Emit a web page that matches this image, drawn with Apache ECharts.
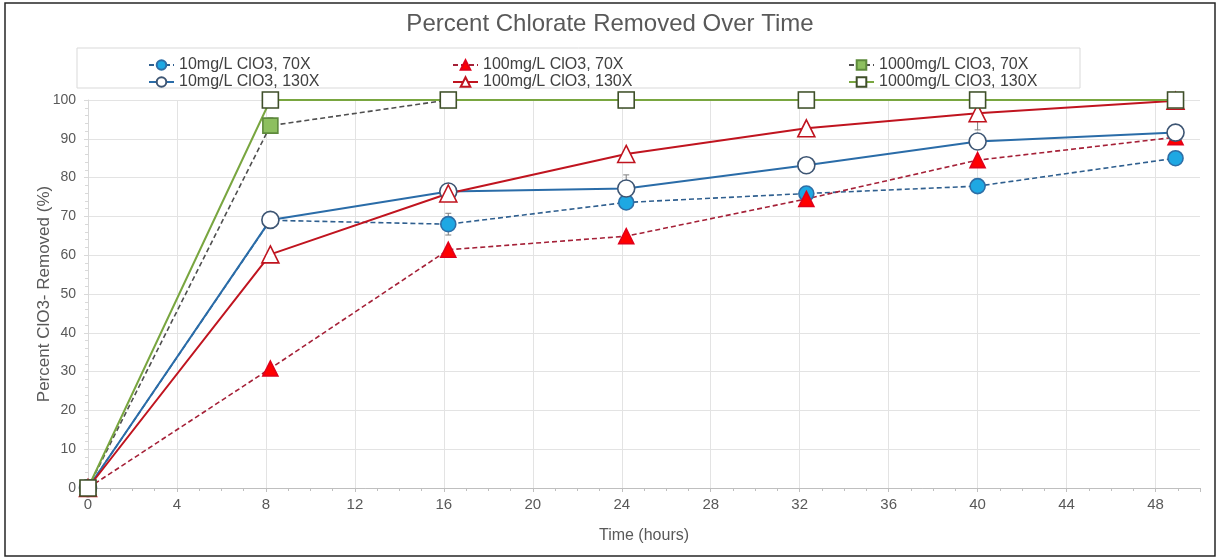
<!DOCTYPE html>
<html>
<head>
<meta charset="utf-8">
<title>Percent Chlorate Removed Over Time</title>
<script src="https://cdn.jsdelivr.net/npm/echarts@6/dist/echarts.min.js"></script>
<style>
  html, body { margin: 0; padding: 0; background: #fff; }
  #chart { width: 1220px; height: 560px; }
</style>
</head>
<body>
<div id="chart"></div>
<script>
// sampling times (hours)
const hours = [0, 8.2, 16.2, 24.2, 32.3, 40, 48.9];

// percent ClO3- removed
const clo3_10_70X = [0, 69, 68, 73.6, 75.9, 77.8, 85];
const clo3_10_130X = [0, 69.1, 76.4, 77.2, 83.2, 89.3, 91.6];
const clo3_100_70X = [0, 30.8, 61.4, 64.9, 74.5, 84.5, 90.4];
const clo3_100_130X = [0, 60.2, 75.9, 86.1, 92.7, 96.6, 99.8];
const clo3_1000_70X = [0, 93.4, 100, 100, 100, 100, 100];
const clo3_1000_130X = [0, 100, 100, 100, 100, 100, 100];

// error bar half-widths (0 = none drawn)
const err_10_70X = [0, 0, 2.8, 0, 0, 0, 0];
const err_10_130X = [0, 0, 0, 3.5, 0, 0, 0];
const err_100_130X = [0, 0, 0, 0, 0, 4.3, 0];
const err_1000_70X = [0, 2, 0, 0, 0, 0, 0];

const xTicks = [0, 4, 8, 12, 16, 20, 24, 28, 32, 36, 40, 44, 48];

const names = [
    '10mg/L ClO3, 70X', '100mg/L ClO3, 70X', '1000mg/L ClO3, 70X',
    '10mg/L ClO3, 130X', '100mg/L ClO3, 130X', '1000mg/L ClO3, 130X'
];

function pairs(ys) {
    return hours.map((h, i) => [h, ys[i]]);
}

function errData(ys, errs) {
    let out = [];
    errs.forEach((e, i) => {
        if (e > 0) out.push([hours[i], ys[i], e]);
    });
    return out;
}

function lineSeries(name, ys, o) {
    return {
        name: name,
        type: 'line',
        data: pairs(ys),
        symbol: o.symbol,
        symbolSize: o.size || 15,
        showAllSymbol: true,
        lineStyle: {color: o.line, width: o.width || 1.6, type: o.dash ? [5, 3] : 'solid'},
        itemStyle: {color: o.fill, borderColor: o.border, borderWidth: 1.6},
        emphasis: {disabled: true},
        z: o.z || 2
    };
}

function errSeries(data) {
    return {
        type: 'custom',
        data: data,
        encode: {x: 0, y: 1},
        z: 1,
        silent: true,
        renderItem: function (params, api) {
            const x = api.value(0), y = api.value(1), e = api.value(2);
            const top = api.coord([x, y + e]);
            const bot = api.coord([x, y - e]);
            const st = {stroke: '#7f7f7f', lineWidth: 1};
            return {
                type: 'group',
                children: [
                    {type: 'line', shape: {x1: top[0], y1: top[1], x2: bot[0], y2: bot[1]}, style: st},
                    {type: 'line', shape: {x1: top[0] - 3, y1: top[1], x2: top[0] + 3, y2: top[1]}, style: st},
                    {type: 'line', shape: {x1: bot[0] - 3, y1: bot[1], x2: bot[0] + 3, y2: bot[1]}, style: st}
                ]
            };
        }
    };
}

const textColor = '#595959';
const legendText = {color: '#404040', fontSize: 16, fontFamily: 'Liberation Sans, Arial, sans-serif'};

function legendCol(left, items) {
    return {
        left: left,
        top: 52,
        orient: 'vertical',
        itemWidth: 25,
        itemHeight: 12,
        itemGap: 1,
        textStyle: legendText,
        selectedMode: false,
        data: items
    };
}

const chart = echarts.init(document.getElementById('chart'));

let option = {
    backgroundColor: '#fff',
    animation: false,
    textStyle: {fontFamily: 'Liberation Sans, Arial, sans-serif'},
    title: {
        text: 'Percent Chlorate Removed Over Time',
        left: 'center',
        top: 7,
        textStyle: {color: textColor, fontSize: 24, fontWeight: 'normal'}
    },
    graphic: [
        {
            type: 'rect',
            shape: {x: 5, y: 3, width: 1210, height: 553},
            style: {fill: 'none', stroke: '#262626', lineWidth: 1.5},
            silent: true
        },
        {
            type: 'rect',
            shape: {x: 77, y: 48, width: 1003, height: 40},
            style: {fill: 'none', stroke: '#d9d9d9', lineWidth: 1},
            silent: true
        }
    ],
    legend: [
        legendCol(143, [names[0], names[3]]),
        legendCol(447, [names[1], names[4]]),
        legendCol(843, [names[2], names[5]])
    ],
    grid: {left: 88, right: 20, top: 100, bottom: 72},
    xAxis: {
        type: 'value',
        min: 0,
        max: 50,
        interval: 4,
        name: 'Time (hours)',
        nameLocation: 'middle',
        nameGap: 40,
        nameMoveOverlap: false,
        nameTextStyle: {color: textColor, fontSize: 16},
        axisLine: {lineStyle: {color: '#bfbfbf'}},
        axisTick: {show: true, length: 4, lineStyle: {color: '#bfbfbf'}},
        minorTick: {show: true, splitNumber: 4, length: 3, lineStyle: {color: '#bfbfbf'}},
        axisLabel: {
            color: textColor,
            fontSize: 15,
            margin: 9,
            formatter: v => xTicks.indexOf(v) >= 0 ? String(v) : ''
        },
        splitLine: {show: true, showMaxLine: false, lineStyle: {color: '#e3e3e3'}}
    },
    yAxis: {
        type: 'value',
        min: 0,
        max: 100,
        interval: 10,
        name: 'Percent ClO3- Removed (%)',
        nameLocation: 'middle',
        nameGap: 35,
        nameMoveOverlap: false,
        nameTextStyle: {color: textColor, fontSize: 17},
        axisLine: {show: true, lineStyle: {color: '#d9d9d9'}},
        axisTick: {show: true, length: 4, lineStyle: {color: '#d9d9d9'}},
        minorTick: {show: true, splitNumber: 5, length: 3, lineStyle: {color: '#d9d9d9'}},
        axisLabel: {color: textColor, fontSize: 14, margin: 12},
        splitLine: {show: true, lineStyle: {color: '#e3e3e3'}}
    },
    series: [
        errSeries(errData(clo3_10_70X, err_10_70X)),
        errSeries(errData(clo3_10_130X, err_10_130X)),
        errSeries(errData(clo3_100_130X, err_100_130X)),
        errSeries(errData(clo3_1000_70X, err_1000_70X)),
        lineSeries(names[0], clo3_10_70X, {symbol: 'circle', line: '#2f5f8f', fill: '#1ea8e3', border: '#2e6ea6', dash: true}),
        lineSeries(names[1], clo3_100_70X, {symbol: 'triangle', line: '#a52037', fill: '#ff0000', border: '#e0001a', dash: true}),
        lineSeries(names[2], clo3_1000_70X, {symbol: 'rect', size: 15, line: '#4f4f4f', fill: '#8dbf5f', border: '#5e8a3c', dash: true}),
        lineSeries(names[3], clo3_10_130X, {symbol: 'circle', size: 17, line: '#2a6ca8', fill: '#ffffff', border: '#3d5573', width: 2}),
        lineSeries(names[4], clo3_100_130X, {symbol: 'triangle', size: 17, line: '#c0141f', fill: '#ffffff', border: '#c0141f', width: 2}),
        lineSeries(names[5], clo3_1000_130X, {symbol: 'rect', size: 16, line: '#79a640', fill: '#ffffff', border: '#3f4f2a', width: 2})
    ]
};

chart.setOption(option);
</script>
</body>
</html>
